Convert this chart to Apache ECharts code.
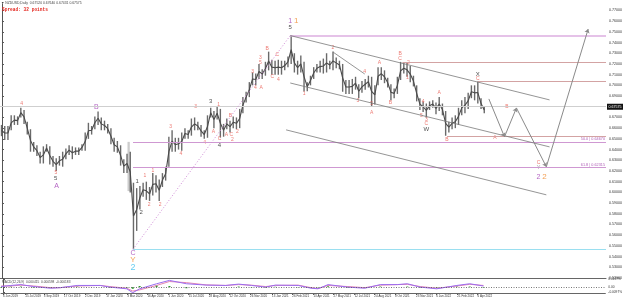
<!DOCTYPE html>
<html>
<head>
<meta charset="utf-8">
<title>NZDUSD Daily</title>
<script src="https://cdn.jsdelivr.net/npm/echarts@6.0.0/dist/echarts.min.js"></script>
<style>
    html, body { margin: 0; padding: 0; background: #fff; }
    #main { width: 625px; height: 301px; }
</style>
</head>
<body>
<div id="main"></div>
<script>
// x values are days counted from 6 Jun 2019
var firstWeekDay = -1; // the week of 3 Jun 2019
var weekLow = [
    0.6525, 0.6490, 0.6490, 0.6580, 0.6630, 0.6630, 0.6700, 0.6640, 0.6540, 0.6380, 0.6380, 0.6340, 0.6270, 0.6270, 0.6380, 0.6260,
    0.6240, 0.6200, 0.6250, 0.6240, 0.6310, 0.6350, 0.6310, 0.6350, 0.6350, 0.6390, 0.6390, 0.6500, 0.6540, 0.6590, 0.6630,
    0.6580, 0.6580, 0.6550, 0.6450, 0.6380, 0.6370, 0.6250, 0.6180, 0.6180, 0.6000, 0.5469, 0.5640, 0.5840, 0.5960, 0.5930, 0.5920,
    0.5970, 0.6000, 0.5920, 0.6050, 0.6110, 0.6240, 0.6380, 0.6380, 0.6400, 0.6390, 0.6500, 0.6500, 0.6530, 0.6580, 0.6580, 0.6520,
    0.6500, 0.6510, 0.6700, 0.6600, 0.6680, 0.6512, 0.6520, 0.6590, 0.6560, 0.6600, 0.6590, 0.6600, 0.6740, 0.6840, 0.6890, 0.7000,
    0.7000, 0.7060, 0.7060, 0.7090,
    0.7140, 0.7100, 0.7100, 0.7100, 0.7100, 0.7140, 0.7170, 0.7200, 0.7120, 0.7100, 0.7120, 0.6943, 0.6945, 0.7000, 0.7060, 0.7120,
    0.7120, 0.7110, 0.7120, 0.7150, 0.7140, 0.7160, 0.7150, 0.6940, 0.6920, 0.6920, 0.6920, 0.6960, 0.6880, 0.6930, 0.6960, 0.6980,
    0.6805, 0.6820, 0.7000, 0.7050, 0.7020, 0.6980, 0.6860, 0.6880, 0.6920, 0.7050, 0.7110, 0.7080, 0.7030, 0.6990, 0.6850, 0.6770,
    0.6750, 0.6700, 0.6770, 0.6790,
    0.6730, 0.6760, 0.6720, 0.6529, 0.6560, 0.6590, 0.6600, 0.6630, 0.6720, 0.6740, 0.6780, 0.6880, 0.6860, 0.6830, 0.6780, 0.6740
];
var weekHigh = [
    0.6630, 0.6620, 0.6620, 0.6720, 0.6720, 0.6710, 0.6790, 0.6770, 0.6660, 0.6590, 0.6470, 0.6440, 0.6380, 0.6430, 0.6450, 0.6430,
    0.6340, 0.6320, 0.6340, 0.6380, 0.6410, 0.6440, 0.6430, 0.6420, 0.6420, 0.6450, 0.6560, 0.6650, 0.6620, 0.6710, 0.6756,
    0.6700, 0.6670, 0.6640, 0.6600, 0.6510, 0.6480, 0.6440, 0.6310, 0.6360, 0.6380, 0.6090, 0.6040, 0.6060, 0.6090, 0.6100, 0.6050,
    0.6180, 0.6160, 0.6120, 0.6180, 0.6240, 0.6520, 0.6580, 0.6510, 0.6510, 0.6560, 0.6600, 0.6580, 0.6690, 0.6700, 0.6660, 0.6630,
    0.6580, 0.6720, 0.6790, 0.6760, 0.6800, 0.6780, 0.6640, 0.6690, 0.6670, 0.6710, 0.6700, 0.6780, 0.6890, 0.6940, 0.7030, 0.7120,
    0.7110, 0.7200, 0.7150, 0.7220,
    0.7315, 0.7240, 0.7230, 0.7240, 0.7230, 0.7230, 0.7270, 0.7465, 0.7300, 0.7230, 0.7280, 0.7220, 0.7030, 0.7090, 0.7170, 0.7200,
    0.7230, 0.7250, 0.7300, 0.7230, 0.7316, 0.7260, 0.7230, 0.7200, 0.7050, 0.7050, 0.7060, 0.7080, 0.7010, 0.7040, 0.7060, 0.7090,
    0.7080, 0.7000, 0.7170, 0.7170, 0.7140, 0.7070, 0.7010, 0.6970, 0.7080, 0.7219, 0.7210, 0.7210, 0.7180, 0.7090, 0.7000, 0.6880,
    0.6850, 0.6830, 0.6850, 0.6860,
    0.6840, 0.6890, 0.6830, 0.6760, 0.6660, 0.6700, 0.6720, 0.6790, 0.6860, 0.6890, 0.6930, 0.7000, 0.7000, 0.7035, 0.6880, 0.6800
];

var dateTicks = [0, 49, 89, 133, 179, 225, 271, 315, 361, 405, 449, 494, 539, 587, 631, 677, 721, 767, 810, 855, 901, 945, 991, 1035];
var dateLabels = ['6 Jun 2019', '25 Jul 2019', '3 Sep 2019', '17 Oct 2019', '2 Dec 2019', '17 Jan 2020', '3 Mar 2020', '16 Apr 2020',
    '1 Jun 2020', '15 Jul 2020', '28 Aug 2020', '12 Oct 2020', '26 Nov 2020', '13 Jan 2021', '26 Feb 2021', '13 Apr 2021',
    '27 May 2021', '12 Jul 2021', '24 Aug 2021', '8 Oct 2021', '23 Nov 2021', '6 Jan 2022', '21 Feb 2022', '6 Apr 2022'];

var bidPrice = 0.67575;

// fibonacci levels drawn from the March 2020 low
var fibStartDay = 285;
var fibPrices = [0.6467, 0.6231];
var fibTexts = ['50.0 | 0.64670', '61.8 | 0.62315'];
var lowPrice = 0.5469;

// horizontal levels [from day, price]
var targetLevels = [[-5, 0.7568], [627, 0.7465]];
var swingLevels = [[871, 0.7219], [1035, 0.7035], [968, 0.6529]];

// trend lines [[day, price], [day, price]]
var trendLines = [
    [[627, 0.7465], [1191, 0.6864]],
    [[627, 0.7022], [1191, 0.6425]],
    [[618, 0.6584], [1184, 0.5977]],
    [[-5, 0.6854], [67, 0.6761]],
    [[-5, 0.6491], [30, 0.6453]],
    [[720, 0.7311], [789, 0.7106]]
];
var dottedLine = [[285, 0.5469], [627, 0.7465]];

// projected path
var projDays = [1059, 1093, 1119, 1184, 1275];
var projPrices = [0.6873, 0.6519, 0.6789, 0.6239, 0.7526];

// wave labels [day, price, text, degree]
var waveLabels = [
    [43, 0.6827, '4', 'minuette'], [205, 0.6798, 'B', 'minor'],
    [117, 0.6183, '5', 'minuette'], [117, 0.6127, '5', 'minute'], [119, 0.6061, 'A', 'minor'],
    [285, 0.5436, 'C', 'minor'], [285, 0.5371, 'Y', 'intermediate'], [285, 0.5296, '2', 'primary'],
    [294, 0.6099, '1', 'minute'], [303, 0.5810, '2', 'minute'],
    [311, 0.6155, '1', 'minuette'], [320, 0.5884, '2', 'minuette'], [328, 0.6201, '1', 'minuette'], [344, 0.5884, '2', 'minuette'],
    [367, 0.6612, '3', 'minuette'], [389, 0.6360, '4', 'minuette'], [421, 0.6798, '3', 'minuette'], [441, 0.6463, '4', 'minuette'],
    [454, 0.6854, '3', 'minute'], [473, 0.6435, '4', 'minute'], [473, 0.6500, 'C', 'minuette'], [460, 0.6565, 'A', 'minuette'],
    [488, 0.6537, 'A', 'minuette'], [499, 0.6537, 'C', 'minuette'], [501, 0.6491, '2', 'minuette'], [512, 0.6565, '2', 'minuette'],
    [471, 0.6817, '1', 'minuette'], [497, 0.6715, 'B', 'minuette'], [545, 0.7125, '3', 'minuette'], [551, 0.6976, '4', 'minuette'],
    [564, 0.6976, 'A', 'minuette'], [562, 0.7256, '3', 'minuette'], [562, 0.7209, '5', 'minuette'], [577, 0.7340, 'B', 'minuette'],
    [599, 0.7284, 'C', 'minuette'], [588, 0.7078, 'C', 'minuette'], [601, 0.7050, '4', 'minuette'],
    [627, 0.7601, '1', 'minor'], [640, 0.7601, '1', 'intermediate'], [627, 0.7545, '5', 'minute'],
    [657, 0.6920, '1', 'minuette'], [720, 0.7349, '2', 'minuette'], [774, 0.6854, '3', 'minuette'], [789, 0.7125, '4', 'minuette'],
    [804, 0.6827, '5', 'minuette'], [804, 0.6742, 'A', 'minuette'], [821, 0.7209, 'A', 'minuette'], [845, 0.6836, 'B', 'minuette'],
    [866, 0.7293, 'B', 'minuette'], [866, 0.7246, 'C', 'minuette'], [884, 0.7209, '2', 'minuette'], [882, 0.7069, '1', 'minuette'],
    [916, 0.6845, '4', 'minuette'], [912, 0.6715, '5', 'minuette'], [923, 0.6677, '3', 'minuette'], [923, 0.6640, 'C', 'minuette'],
    [923, 0.6593, 'W', 'minute'], [951, 0.6929, 'A', 'minuette'], [968, 0.6491, 'B', 'minuette'],
    [1035, 0.7106, 'X', 'minute'], [1035, 0.7060, 'C', 'minuette'],
    [1072, 0.6509, 'A', 'minuette'], [1098, 0.6798, 'B', 'minuette'], [1167, 0.6276, 'C', 'minuette'],
    [1167, 0.6229, 'Y', 'projected'], [1167, 0.6145, '2', 'minor'], [1180, 0.6145, '2', 'intermediate']
];

// oscillator panel
var indDays = [-4, 17, 39, 67, 104, 125, 162, 212, 233, 270, 283, 298, 335, 363, 400, 443, 486, 514, 542, 573,
    594, 644, 672, 687, 709, 752, 789, 823, 860, 882, 910, 946, 990, 1018, 1048];
var indMain = [0.001, 0.003, 0.0045, 0.001, -0.002, -0.001, 0.003, 0.003, 0, -0.003, -0.010, -0.003, 0.006, 0.012, 0.006,
    0.0036, 0.003, 0.0054, 0.003, 0, 0.0036, 0.003, -0.002, -0.003, 0.0045, 0, -0.002, 0.0045, 0.0045, 0.006, 0, -0.003,
    0.003, 0.006, 0.002];
var indSignal = [0.002, 0.002, 0.0035, 0.002, -0.001, -0.001, 0.002, 0.003, 0.001, -0.002, -0.007, -0.005, 0.003, 0.010,
    0.008, 0.004, 0.003, 0.0045, 0.0035, 0.001, 0.003, 0.0035, -0.001, -0.0025, 0.003, 0.001, -0.001, 0.0035, 0.0045, 0.005,
    0.001, -0.002, 0.002, 0.005, 0.003];
var indHist = [-0.001, 0.001, 0.001, -0.001, -0.001, 0, 0.001, 0, -0.001, -0.001, -0.003, 0.002, 0.003, 0.002, -0.002, 0, 0,
    0.001, -0.0005, -0.001, 0.0006, -0.0005, -0.001, -0.0005, 0.0015, -0.001, -0.001, 0.001, 0, 0.001, -0.001, -0.001, 0.001,
    0.001, -0.001];
var indTicks = [0.0137, 0, -0.0097];

var xMin = -4.3, xMax = 1313.8;

var degreeStyle = {
    minuette: {color: '#e8584f', size: 5},
    minute: {color: '#222222', size: 6},
    minor: {color: '#a03cb4', size: 7},
    intermediate: {color: '#f08a2c', size: 8},
    primary: {color: '#3cbfee', size: 9},
    projected: {color: '#888888', size: 5.5}
};

var myChart = echarts.init(document.getElementById('main'));

var bars = [];
var mids = [];
for (var i = 0; i < weekLow.length; i++) {
    bars.push([firstWeekDay + 7 * i, weekLow[i], weekHigh[i]]);
    mids.push([firstWeekDay + 7 * i, (weekLow[i] + weekHigh[i]) / 2]);
}

var levelLines = [];
targetLevels.forEach(function (l) {
    levelLines.push([{coord: [l[0], l[1]], lineStyle: {color: '#dcaee0', width: 1.6}}, {coord: [xMax, l[1]]}]);
});
swingLevels.forEach(function (l) {
    levelLines.push([{coord: [l[0], l[1]], lineStyle: {color: '#d3a3a3', width: 1}}, {coord: [xMax, l[1]]}]);
});
fibPrices.forEach(function (p, k) {
    levelLines.push([{coord: [fibStartDay, p], lineStyle: {color: '#cf98d2', width: 1},
        label: {show: true, formatter: fibTexts[k], position: 'insideEndTop', color: '#b060b8', fontSize: 3.8, distance: 1}},
        {coord: [xMax, p]}]);
});
levelLines.push([{coord: [fibStartDay, lowPrice], lineStyle: {color: '#9adff0', width: 1}}, {coord: [xMax, lowPrice]}]);
trendLines.forEach(function (t) {
    levelLines.push([{coord: t[0], lineStyle: {color: '#7a7a7a', width: 0.8}}, {coord: t[1]}]);
});
levelLines.push([{coord: dottedLine[0], lineStyle: {color: '#d08ad6', width: 1, type: [1, 2]}}, {coord: dottedLine[1]}]);

var projSegs = [];
for (var j = 0; j < projDays.length - 1; j++) {
    projSegs.push([{coord: [projDays[j], projPrices[j]]}, {coord: [projDays[j + 1], projPrices[j + 1]]}]);
}

var labelData = waveLabels.map(function (w) {
    var s = degreeStyle[w[3]];
    return {name: w[2], value: [w[0], w[1]], label: {color: s.color, fontSize: s.size}};
});

var smallFont = '"Liberation Sans", Arial, sans-serif';

myChart.setOption({
    animation: false,
    backgroundColor: '#ffffff',
    textStyle: {fontFamily: smallFont},
    title: [
        {text: '\u25BC NZDUSD,Daily  0.67520 0.67640 0.67431 0.67575', left: 1, top: 2, padding: 0,
            textStyle: {fontSize: 3.4, fontWeight: 'normal', color: '#444', fontFamily: smallFont}},
        {text: 'Spread: 32 points', left: 2, top: 7.5, padding: 0,
            textStyle: {fontSize: 4.5, fontWeight: 'bold', color: '#e3261f', fontFamily: '"Liberation Mono", monospace'}},
        {text: 'MACD(12,26,9)  0.000415  0.000598  -0.000183', left: 2, top: 280.5, padding: 0,
            textStyle: {fontSize: 3.2, fontWeight: 'normal', color: '#444', fontFamily: smallFont}}
    ],
    grid: [
        {left: 0, right: 15, top: 4, height: 274},
        {left: 0, right: 15, top: 279, height: 14}
    ],
    xAxis: [
        {type: 'value', gridIndex: 0, min: xMin, max: xMax, splitLine: {show: false},
            axisLine: {show: true, onZero: false, lineStyle: {color: '#666', width: 1}},
            axisTick: {show: false}, axisLabel: {show: false}},
        {type: 'value', gridIndex: 1, min: xMin, max: xMax, splitLine: {show: false},
            axisLine: {show: true, onZero: false, lineStyle: {color: '#666', width: 1}},
            axisTick: {show: true, length: 2, customValues: dateTicks, lineStyle: {color: '#666'}},
            axisLabel: {show: true, customValues: dateTicks, fontSize: 3, color: '#333', align: 'left', margin: 2,
                showMinLabel: true, showMaxLabel: true, hideOverlap: false,
                formatter: function (v) { return dateLabels[dateTicks.indexOf(v)] || ''; }}}
    ],
    yAxis: [
        {type: 'value', gridIndex: 0, position: 'right', min: 0.52, max: 0.776, interval: 0.01, splitLine: {show: false},
            axisLine: {show: true, lineStyle: {color: '#555'}},
            axisTick: {show: true, length: 2, lineStyle: {color: '#555'}},
            axisLabel: {fontSize: 3.6, color: '#333', margin: 3, showMaxLabel: false,
                formatter: function (v) { return v.toFixed(5); }}},
        {type: 'value', gridIndex: 1, position: 'right', min: -0.0105, max: 0.0145, splitLine: {show: false},
            axisLine: {show: true, lineStyle: {color: '#555'}},
            axisTick: {show: true, length: 2, customValues: indTicks, lineStyle: {color: '#555'}},
            axisLabel: {fontSize: 3.2, color: '#333', margin: 3, customValues: indTicks,
                formatter: function (v) { return v === 0 ? '0.00' : v.toFixed(4) + '%'; }}}
    ],
    series: [
        {
            name: 'NZDUSD', type: 'custom', xAxisIndex: 0, yAxisIndex: 0, silent: true,
            data: bars,
            encode: {x: 0, y: [1, 2]},
            renderItem: function (params, api) {
                var lo = api.coord([api.value(0), api.value(1)]);
                var hi = api.coord([api.value(0), api.value(2)]);
                return {type: 'rect', shape: {x: lo[0] - 0.7, y: hi[1], width: 1.4, height: Math.max(1, lo[1] - hi[1])},
                    style: {fill: '#6a6a6a'}};
            },
            markLine: {
                silent: true, symbol: ['none', 'none'], animation: false,
                label: {show: true, position: 'end', formatter: bidPrice.toFixed(5), color: '#fff', backgroundColor: '#111',
                    fontSize: 3.6, padding: [1, 1.5], distance: 1},
                lineStyle: {color: '#cfcfcf', width: 1, type: 'solid'},
                data: [{yAxis: bidPrice}]
            },
            markArea: {
                silent: true, itemStyle: {color: '#cccccc'},
                data: [[{coord: [273, 0.6012]}, {coord: [278, 0.6472]}]]
            }
        },
        {
            name: 'NZDUSD mid', type: 'line', xAxisIndex: 0, yAxisIndex: 0, silent: true, showSymbol: false,
            lineStyle: {color: '#4a4a4a', width: 1.1},
            data: mids
        },
        {
            name: 'levels', type: 'line', xAxisIndex: 0, yAxisIndex: 0, data: [], silent: true,
            markLine: {silent: true, symbol: ['none', 'none'], animation: false, label: {show: false},
                lineStyle: {type: 'solid'}, data: levelLines}
        },
        {
            name: 'projection', type: 'line', xAxisIndex: 0, yAxisIndex: 0, data: [], silent: true,
            markLine: {silent: true, animation: false, symbol: ['none', 'arrow'], symbolSize: 4, label: {show: false},
                lineStyle: {color: '#8a8a8a', width: 1, type: 'solid'}, data: projSegs}
        },
        {
            name: 'waves', type: 'scatter', xAxisIndex: 0, yAxisIndex: 0, silent: true,
            symbolSize: 0.1, itemStyle: {color: 'transparent'},
            label: {show: true, position: 'inside', formatter: '{b}'},
            data: labelData
        },
        {
            name: 'hist', type: 'bar', xAxisIndex: 1, yAxisIndex: 1, silent: true, barWidth: 2,
            itemStyle: {color: '#2e9a2e'},
            data: indDays.map(function (d, k) { return [d, indHist[k]]; }),
            markLine: {silent: true, symbol: ['none', 'none'], label: {show: false},
                lineStyle: {color: '#555', type: [1, 1.5], width: 0.8}, data: [{yAxis: 0}]}
        },
        {
            name: 'signal', type: 'line', xAxisIndex: 1, yAxisIndex: 1, silent: true, showSymbol: false,
            lineStyle: {color: '#e0679a', width: 0.8},
            data: indDays.map(function (d, k) { return [d, indSignal[k]]; })
        },
        {
            name: 'main', type: 'line', xAxisIndex: 1, yAxisIndex: 1, silent: true, showSymbol: false,
            lineStyle: {color: '#9a6cf0', width: 1},
            data: indDays.map(function (d, k) { return [d, indMain[k]]; })
        }
    ]
});
</script>
</body>
</html>
